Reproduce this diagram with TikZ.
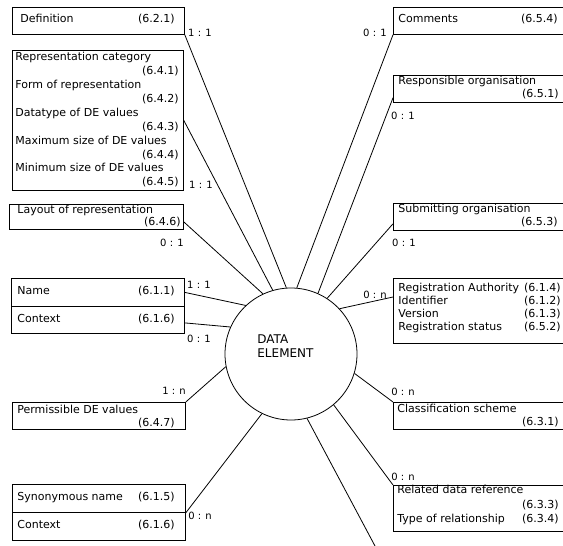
\documentclass[tikz,border=0pt]{standalone}
\usepackage{fontspec}
\setmainfont{DejaVu Sans}
\begin{document}
\begin{tikzpicture}[x=1pt,y=-1pt,line width=0.8pt,
  box/.style={draw,rectangle,inner sep=0pt,anchor=north west},
  rbox/.style={rectangle,inner sep=0pt,anchor=north west},
  lt/.style={anchor=west,inner sep=0pt,text height=8pt,text depth=2pt,font=\fontsize{11}{12}\selectfont},
  rt/.style={anchor=east,inner sep=0pt,text height=8pt,text depth=2pt,font=\fontsize{11}{12}\selectfont},
  card/.style={inner sep=0pt,text height=7pt,text depth=0pt,font=\fontsize{10}{11}\selectfont},
  conn/.style={draw,line width=0.8pt}]
\useasboundingbox (0,0) rectangle (563,546);

% central entity
\node[circle,draw,minimum size=132pt,inner sep=0pt] (de) at (291,354) {};
\node[anchor=west,align=left,inner sep=0pt,font=\fontsize{12}{14}\selectfont] (detext) at (257,346) {DATA\\ELEMENT};

% ---- left boxes ----
\node[box,minimum width=172pt,minimum height=27pt] (def) at (12,7) {};
\node[lt] (t1) at (20,20) {Definition};
\node[rt] (c1) at (175,20) {(6.2.1)};

\node[box,minimum width=171pt,minimum height=140pt] (rep) at (12,50) {};
\node[lt] (t2a) at (15,57) {Representation category};
\node[rt] (c2a) at (179,71) {(6.4.1)};
\node[lt] (t2b) at (15,85) {Form of representation};
\node[rt] (c2b) at (179,99) {(6.4.2)};
\node[lt] (t2c) at (15,113) {Datatype of DE values};
\node[rt] (c2c) at (179,127) {(6.4.3)};
\node[lt] (t2d) at (15,141) {Maximum size of DE values};
\node[rt] (c2d) at (179,155) {(6.4.4)};
\node[lt] (t2e) at (15,168) {Minimum size of DE values};
\node[rt] (c2e) at (179,182) {(6.4.5)};

\node[box,minimum width=174pt,minimum height=25pt] (lay) at (9,204) {};
\node[lt] (t3) at (17,210) {Layout of representation};
\node[rt] (c3) at (181,222) {(6.4.6)};

\node[box,minimum width=173pt,minimum height=28pt] (name) at (11,278) {};
\node[lt] (t4) at (17,291) {Name};
\node[rt] (c4) at (175,291) {(6.1.1)};
\node[box,minimum width=173pt,minimum height=27pt] (ctx) at (11,306) {};
\node[lt] (t5) at (17,319) {Context};
\node[rt] (c5) at (175,319) {(6.1.6)};

\node[box,minimum width=173pt,minimum height=27pt] (perm) at (12,402) {};
\node[lt] (t6) at (17,410) {Permissible DE values};
\node[rt] (c6) at (175,423) {(6.4.7)};

\node[box,minimum width=173pt,minimum height=28pt] (syn) at (12,484) {};
\node[lt] (t7) at (17,497) {Synonymous name};
\node[rt] (c7) at (175,497) {(6.1.5)};
\node[box,minimum width=173pt,minimum height=28pt] (ctx2) at (12,512) {};
\node[lt] (t8) at (17,525) {Context};
\node[rt] (c8) at (175,525) {(6.1.6)};

% ---- right boxes (open on the right) ----
\node[rbox,minimum width=170pt,minimum height=27pt] (com) at (393,7) {};
\node[rbox,minimum width=170pt,minimum height=27pt] (resp) at (393,75) {};
\node[rbox,minimum width=170pt,minimum height=27pt] (sub) at (393,203) {};
\node[rbox,minimum width=170pt,minimum height=65pt] (reg) at (393,278) {};
\node[rbox,minimum width=170pt,minimum height=27pt] (cls) at (393,402) {};
\node[rbox,minimum width=170pt,minimum height=46pt] (rel) at (393,485) {};
\foreach \b in {com,resp,sub,reg,cls,rel}
  \draw (\b.north east) -- (\b.north west) -- (\b.south west) -- (\b.south east);

\node[lt] (r1) at (398,19) {Comments};
\node[rt] (d1) at (558,19) {(6.5.4)};
\node[lt] (r2) at (398,81) {Responsible organisation};
\node[rt] (d2) at (559,94) {(6.5.1)};
\node[lt] (r3) at (398,209) {Submitting organisation};
\node[rt] (d3) at (558,222) {(6.5.3)};
\node[lt] (r4a) at (398,288) {Registration Authority};
\node[rt] (d4a) at (561,288) {(6.1.4)};
\node[lt] (r4b) at (398,301) {Identifier};
\node[rt] (d4b) at (561,301) {(6.1.2)};
\node[lt] (r4c) at (398,314) {Version};
\node[rt] (d4c) at (561,314) {(6.1.3)};
\node[lt] (r4d) at (398,327) {Registration status};
\node[rt] (d4d) at (561,327) {(6.5.2)};
\node[lt] (r5) at (397,409) {Classification scheme};
\node[rt] (d5) at (559,422) {(6.3.1)};
\node[lt] (r6a) at (397,490) {Related data reference};
\node[rt] (d6a) at (559,505) {(6.3.3)};
\node[lt] (r6b) at (397,519) {Type of relationship};
\node[rt] (d6b) at (559,519) {(6.3.4)};

% ---- connectors ----
\coordinate (loose) at (375,546);
\draw[conn] (def.south east) -- (de.94);
\draw[conn] (rep.east) -- (de.106);
\draw[conn] ([yshift=-5pt]lay.east) -- (de.115);
\draw[conn] (name.east) -- (de.133);
\draw[conn] ([yshift=-3pt]ctx.east) -- (de.156);
\draw[conn] (perm.north east) -- (de.191);
\draw[conn] (syn.south east) -- (de.244);
\draw[conn] (de.284) -- (loose);
\draw[conn] (rel.north west) -- (de.310);
\draw[conn] (cls.north west) -- (de.343);
\draw[conn] ([yshift=-19pt]reg.north west) -- (de.43);
\draw[conn] ([yshift=7pt]sub.south west) -- (de.57);
\draw[conn] ([yshift=5pt]resp.south west) -- (de.66);
\draw[conn] (com.south west) -- (de.85);

% ---- cardinalities ----
\node[card] (k1) at (200,33) {1 : 1};
\node[card] (k2) at (201,185) {1 : 1};
\node[card] (k3) at (172,243) {0 : 1};
\node[card] (k4) at (199,285) {1 : 1};
\node[card] (k5) at (199,339) {0 : 1};
\node[card] (k6) at (174,391) {1 : n};
\node[card] (k7) at (200,516) {0 : n};
\node[card] (k8) at (375,33) {0 : 1};
\node[card] (k9) at (403,116) {0 : 1};
\node[card] (k10) at (404,243) {0 : 1};
\node[card] (k11) at (375,295) {0 : n};
\node[card] (k12) at (403,392) {0 : n};
\node[card] (k13) at (403,477) {0 : n};
\end{tikzpicture}
\end{document}
